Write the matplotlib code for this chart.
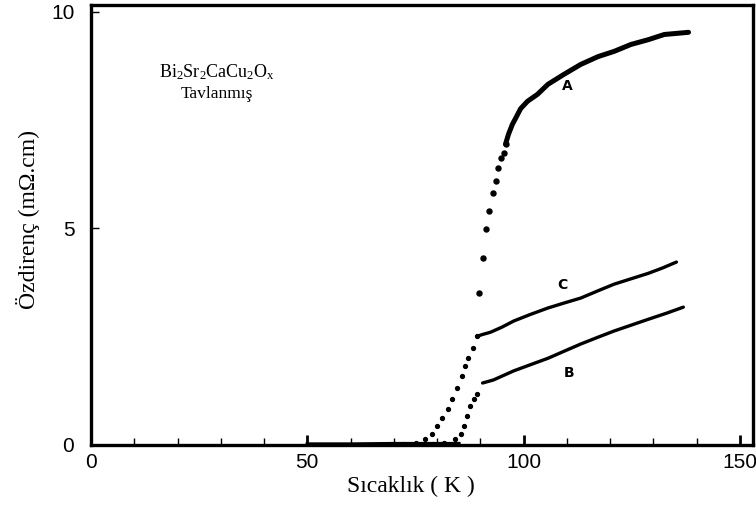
import numpy as np
import matplotlib
matplotlib.use("Agg")
import matplotlib.pyplot as plt
from matplotlib.ticker import MultipleLocator

# Curve A (annealed sample) - sparse dots in the transition, dense trace above
a_dots_T = [89.6, 90.7, 91.2, 91.9, 92.8, 93.5, 94.0, 94.7, 95.4, 95.8]
a_dots_R = [3.50, 4.31, 4.98, 5.39, 5.81, 6.08, 6.38, 6.61, 6.73, 6.94]
a_line_T = [95.8, 96.5, 97.4, 98.1, 99.3, 100.9, 103.2, 105.6, 109.3, 113.2,
            117.2, 120.9, 124.8, 128.8, 132.5, 134.8, 138.1]
a_line_R = [6.94, 7.17, 7.40, 7.53, 7.76, 7.93, 8.09, 8.32, 8.55, 8.78,
            8.96, 9.08, 9.24, 9.35, 9.47, 9.49, 9.52]

# Curve C
c_dots_T = [72.0, 75.0, 77.3, 78.9, 80.0, 81.2, 82.4, 83.5, 84.7, 85.8,
            86.5, 87.2, 88.4, 89.3]
c_dots_R = [0.03, 0.05, 0.14, 0.25, 0.44, 0.62, 0.83, 1.06, 1.31, 1.59,
            1.82, 2.00, 2.24, 2.51]
c_line_T = [89.3, 90.5, 92.3, 95.0, 97.7, 101.5, 105.6, 109.5, 113.2, 117.0,
            120.9, 125.0, 128.8, 132.0, 135.3]
c_line_R = [2.51, 2.55, 2.60, 2.72, 2.86, 3.01, 3.16, 3.28, 3.39, 3.55,
            3.71, 3.84, 3.96, 4.08, 4.22]

# Curve B
b_dots_T = [79.0, 81.5, 84.2, 85.4, 86.1, 87.0, 87.7, 88.5, 89.3]
b_dots_R = [0.03, 0.05, 0.14, 0.25, 0.44, 0.67, 0.90, 1.05, 1.18]
b_line_T = [90.5, 93.0, 97.7, 101.5, 105.6, 109.5, 113.2, 117.0,
            120.9, 125.0, 128.8, 133.0, 136.9]
b_line_R = [1.43, 1.50, 1.71, 1.85, 2.00, 2.17, 2.33, 2.48,
            2.63, 2.77, 2.90, 3.04, 3.18]

# zero-resistance region below Tc
zero_T = [50, 60, 70, 78, 85]
zero_R = [0.02, 0.02, 0.03, 0.03, 0.03]

plt.rcParams['font.family'] = ['Liberation Serif', 'DejaVu Serif']
plt.rcParams['mathtext.fontset'] = 'custom'
plt.rcParams['mathtext.rm'] = 'Liberation Serif'
plt.rcParams['mathtext.it'] = 'Liberation Serif:italic'

fig = plt.figure(figsize=(7.56, 5.05), dpi=100)
ax = fig.add_axes([91 / 756, 60 / 505, 662 / 756, 440 / 505])

ax.plot(zero_T, zero_R, color='black', lw=2.6)
ax.plot(a_dots_T, a_dots_R, 'o', color='black', ms=3.6)
ax.plot(a_line_T, a_line_R, color='black', lw=3.6, solid_capstyle='round')
ax.plot(c_dots_T, c_dots_R, 'o', color='black', ms=2.8)
ax.plot(c_line_T, c_line_R, color='black', lw=2.4, solid_capstyle='round')
ax.plot(b_dots_T, b_dots_R, 'o', color='black', ms=2.8)
ax.plot(b_line_T, b_line_R, color='black', lw=2.4, solid_capstyle='round')

ax.set_xlim(0, 153)
ax.set_ylim(0, 10.15)

ax.set_xticks([0, 50, 100, 150])
ax.xaxis.set_minor_locator(MultipleLocator(10))
ax.set_yticks([0, 5, 10])
for lab in ax.get_xticklabels() + ax.get_yticklabels():
    lab.set_family(['Liberation Sans', 'DejaVu Sans'])
    lab.set_fontsize(15)
ax.tick_params(axis='x', which='major', direction='in', length=7, width=2, pad=6)
ax.tick_params(axis='x', which='minor', direction='in', length=5, width=1)
ax.tick_params(axis='y', which='both', direction='in', length=6, width=1, pad=12)

for sp in ax.spines.values():
    sp.set_linewidth(2.4)

ax.text(29.2, 8.6, r'Bi$_2$Sr$_2$CaCu$_2$O$_\mathrm{x}$', ha='center', va='center', fontsize=13)
ax.text(29.2, 8.1, 'Tavlanmış', ha='center', va='center', fontsize=12.5)

ax.text(110, 8.27, 'A', ha='center', va='center', fontsize=10, fontweight='bold', family='DejaVu Sans')
ax.text(109, 3.69, 'C', ha='center', va='center', fontsize=10, fontweight='bold', family='DejaVu Sans')
ax.text(110.4, 1.66, 'B', ha='center', va='center', fontsize=10, fontweight='bold', family='DejaVu Sans')

fig.text(411 / 756, 1 - 486 / 505, 'Sıcaklık ( K )', ha='center', va='center', fontsize=17)
fig.text(28 / 756, 1 - 220 / 505, 'Özdirenç (mΩ.cm)', ha='center', va='center',
         rotation=90, fontsize=17)

fig.savefig('out.png', dpi=100)
